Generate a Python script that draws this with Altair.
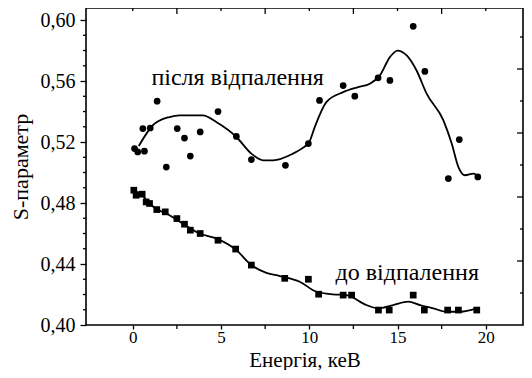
import altair as alt
import pandas as pd

# Measured data: after annealing (circles)
after_x = [0.1, 0.28, 0.66, 0.57, 0.99, 1.38, 1.9, 2.52, 2.93, 3.26, 3.82, 4.83, 5.87, 6.72,
           8.65, 9.95, 10.58, 11.92, 12.58, 13.9, 14.57, 15.89, 16.55, 17.88, 18.5, 19.55]
after_y = [0.5157, 0.5135, 0.514, 0.5288, 0.5292, 0.5468, 0.5036, 0.5288, 0.5226, 0.5108,
           0.5266, 0.540, 0.5237, 0.5085, 0.5047, 0.519, 0.5473, 0.557, 0.5501, 0.5621,
           0.5604, 0.5959, 0.5663, 0.496, 0.5216, 0.4971]

# Measured data: before annealing (squares)
before_x = [0.06, 0.19, 0.53, 0.76, 0.95, 1.36, 1.84, 2.5, 2.93, 3.26, 3.82, 4.83, 5.83, 6.72,
            8.61, 9.95, 10.53, 11.92, 12.4, 13.92, 14.53, 15.89, 16.52, 17.84, 18.45, 19.49]
before_y = [0.4884, 0.4851, 0.4858, 0.4807, 0.4797, 0.4757, 0.4742, 0.4698, 0.4661, 0.4622,
            0.46, 0.4556, 0.4498, 0.4393, 0.4306, 0.430, 0.4202, 0.4196, 0.4196, 0.4098,
            0.4098, 0.4196, 0.4098, 0.4098, 0.4098, 0.4098]

# Smooth guide curves
curve_after_x = [0.34, 1.14, 2.08, 2.65, 3.97, 4.73, 5.87, 6.72, 7.38, 7.95, 9.08, 9.55, 10.0,
                 10.31, 10.97, 11.92, 12.77, 13.43, 14.0, 14.57, 15.0, 15.52, 16.08, 16.65,
                 17.6, 18.07, 18.45, 18.83, 19.3, 19.68]
curve_after_y = [0.5174, 0.531, 0.5364, 0.5375, 0.5375, 0.5331, 0.5233, 0.5124, 0.508, 0.508,
                 0.5124, 0.5155, 0.520, 0.5298, 0.5462, 0.5527, 0.556, 0.5582, 0.5637, 0.5757,
                 0.580, 0.5768, 0.5669, 0.5517, 0.5342, 0.519, 0.5036, 0.4982, 0.4993, 0.496]

curve_before_x = [0.06, 0.5, 0.95, 1.4, 1.9, 2.84, 3.79, 4.73, 5.87, 6.72, 7.57, 8.33, 9.46,
                  10.41, 11.35, 12.1, 13.24, 13.9, 14.76, 15.61, 16.27, 17.03, 17.78, 18.54, 19.49]
curve_before_y = [0.4884, 0.4855, 0.4797, 0.4757, 0.4731, 0.4665, 0.46, 0.4568, 0.4491, 0.4393,
                  0.4342, 0.4321, 0.4284, 0.4218, 0.4201, 0.4196, 0.4131, 0.4109, 0.4131, 0.4153,
                  0.4131, 0.4109, 0.4087, 0.4087, 0.4109]

# Annotations
label_text = ["після відпалення", "до відпалення"]
label_x = [5.94, 15.55]
label_y = [0.562, 0.434]

# Axis ticks
x_labels = [0, 5, 10, 15, 20]
x_minor = [2.5, 7.5, 12.5, 17.5]
y_labels = [0.40, 0.44, 0.48, 0.52, 0.56, 0.60]
y_minor = [0.41, 0.42, 0.43, 0.45, 0.46, 0.47, 0.49, 0.50, 0.51, 0.53, 0.54, 0.55, 0.57, 0.58, 0.59]
top_major = [2.5, 7.5, 12.5, 17.5]
top_minor = [0, 5, 10, 15, 20]
right_major = [0.44, 0.48, 0.52, 0.56]
right_minor = [0.42, 0.46, 0.50, 0.54, 0.58]

FONT = "Liberation Serif"
W, H = 437, 317
X_DOMAIN = [-2.65, 22.11]
Y_DOMAIN = [0.40, 0.6079]
RIGHT_DOMAIN = [0.40, 0.598125]   # right-hand mirror axis runs on a slightly different scale
RIGHT_FACTOR = (Y_DOMAIN[1] - Y_DOMAIN[0]) / (RIGHT_DOMAIN[1] - RIGHT_DOMAIN[0])

pts_after = pd.DataFrame({"x": after_x, "y": after_y})
pts_before = pd.DataFrame({"x": before_x, "y": before_y})
cur_after = pd.DataFrame({"x": curve_after_x, "y": curve_after_y})
cur_before = pd.DataFrame({"x": curve_before_x, "y": curve_before_y})
labels = pd.DataFrame({"t": label_text, "x": label_x, "y": label_y})

xs = alt.Scale(domain=X_DOMAIN, nice=False, zero=False)
ys = alt.Scale(domain=Y_DOMAIN, nice=False, zero=False)

x_axis = alt.Axis(
    values=x_labels, title="Енергія, кеВ", grid=False, domain=False, format="d",
    tickSize=4, tickColor="black", tickWidth=1.3, labelFont=FONT, labelFontSize=17,
    labelColor="black", labelPadding=0,
    titleFont=FONT, titleFontSize=21, titleFontWeight="normal", titleColor="black",
    titleBaseline="alphabetic", titlePadding=21,
)
y_axis = alt.Axis(
    values=y_labels, title="S-параметр", grid=False, domain=False,
    labelExpr="replace(format(datum.value, '.2f'), '.', ',')",
    tickSize=6, tickColor="black", tickWidth=1.3, labelFont=FONT, labelFontSize=20, labelColor="black",
    labelPadding=5,
    titleFont=FONT, titleFontSize=22, titleFontWeight="normal", titleColor="black",
    titlePadding=8,
)

X = lambda f: alt.X(f"{f}:Q", scale=xs, axis=x_axis)
Y = lambda f: alt.Y(f"{f}:Q", scale=ys, axis=y_axis)

l_cur_a = alt.Chart(cur_after).mark_line(color="black", strokeWidth=1.8, interpolate="monotone").encode(x=X("x"), y=Y("y"))
l_cur_b = alt.Chart(cur_before).mark_line(color="black", strokeWidth=1.8, interpolate="monotone").encode(x=X("x"), y=Y("y"))
l_pa = alt.Chart(pts_after).mark_point(shape="circle", filled=True, color="black", opacity=1, size=45).encode(x=X("x"), y=Y("y"))
l_pb = alt.Chart(pts_before).mark_point(shape="square", filled=True, color="black", opacity=1, size=45).encode(x=X("x"), y=Y("y"))
l_txt = alt.Chart(labels).mark_text(font=FONT, fontSize=24, color="black", align="center", baseline="middle").encode(
    x=X("x"), y=Y("y"), text="t:N")


def top_ticks(vals, length):
    return alt.Chart(pd.DataFrame({"v": vals})).mark_rule(color="black", strokeWidth=1.3).encode(
        x=X("v"), y=alt.value(0), y2=alt.value(length))


def bottom_ticks(vals, length):
    return alt.Chart(pd.DataFrame({"v": vals})).mark_rule(color="black", strokeWidth=1.3).encode(
        x=X("v"), y=alt.value(H), y2=alt.value(H + length))


def left_ticks(vals, length):
    return alt.Chart(pd.DataFrame({"v": vals})).mark_rule(color="black", strokeWidth=1.3).encode(
        y=Y("v"), x=alt.value(-length), x2=alt.value(0))


def right_ticks(vals, length):
    return alt.Chart(pd.DataFrame({"v": vals})).transform_calculate(
        vm=f"{Y_DOMAIN[0]} + (datum.v - {RIGHT_DOMAIN[0]}) * {RIGHT_FACTOR}"
    ).mark_rule(color="black", strokeWidth=1.3).encode(
        y=Y("vm"), x=alt.value(W - length), x2=alt.value(W))


chart = alt.layer(
    l_cur_a, l_cur_b, l_pa, l_pb, l_txt,
    top_ticks(top_major, 6), top_ticks(top_minor, 3),
    right_ticks(right_major, 6), right_ticks(right_minor, 3),
    bottom_ticks(x_minor, 4), left_ticks(y_minor, 3),
).properties(
    width=W, height=H,
    autosize=alt.AutoSizeParams(type="none"),
    padding={"left": 78, "top": 0, "right": 1, "bottom": 45},
).configure_view(stroke="black", strokeWidth=1.6)

chart.save("out.html", embed_options={"renderer": "svg", "actions": False})
